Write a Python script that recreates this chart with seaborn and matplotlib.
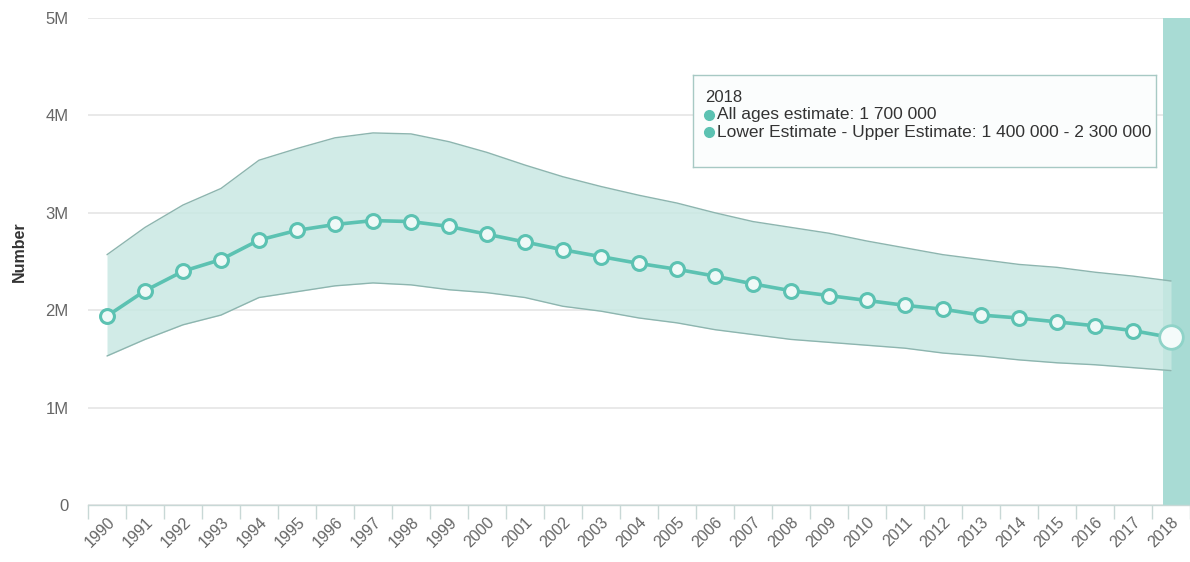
import matplotlib
matplotlib.use("Agg")
import matplotlib.pyplot as plt
import matplotlib.transforms as mtransforms
import seaborn as sns
import pandas as pd

# Estimated number of people (all ages), 1990-2018, with uncertainty range
years = list(range(1990, 2019))
all_ages = [1.94, 2.20, 2.40, 2.52, 2.72, 2.82, 2.88, 2.92, 2.91, 2.86,
            2.78, 2.70, 2.62, 2.55, 2.48, 2.42, 2.35, 2.27, 2.20, 2.15,
            2.10, 2.05, 2.01, 1.95, 1.92, 1.88, 1.84, 1.79, 1.72]
lower = [1.53, 1.70, 1.85, 1.95, 2.13, 2.19, 2.25, 2.28, 2.26, 2.21,
         2.18, 2.13, 2.04, 1.99, 1.92, 1.87, 1.80, 1.75, 1.70, 1.67,
         1.64, 1.61, 1.56, 1.53, 1.49, 1.46, 1.44, 1.41, 1.38]
upper = [2.57, 2.85, 3.08, 3.25, 3.54, 3.66, 3.77, 3.82, 3.81, 3.73,
         3.62, 3.49, 3.37, 3.27, 3.18, 3.10, 3.00, 2.91, 2.85, 2.79,
         2.71, 2.64, 2.57, 2.52, 2.47, 2.44, 2.39, 2.35, 2.30]
y_ticks = [0, 1, 2, 3, 4, 5]
y_tick_labels = ["0", "1M", "2M", "3M", "4M", "5M"]
highlight_year = 2018

M = 1_000_000
df = pd.DataFrame({
    "year": years,
    "estimate": [v * M for v in all_ages],
    "lower": [v * M for v in lower],
    "upper": [v * M for v in upper],
})

sns.set_theme(style="white")
plt.rcParams["font.family"] = ["Liberation Sans", "DejaVu Sans"]

teal = "#5cc2b2"
band_fill = "#c9e8e3"
band_edge = "#8db5af"
grid_col = "#e3e3e3"
text_col = "#666666"

fig = plt.figure(figsize=(11.9, 5.62), dpi=100)
ax = fig.add_axes([88 / 1190, 57 / 562, 1 - 88 / 1190, (505 - 18) / 562])

# hover band over the highlighted year
ax.axvspan(highlight_year - 0.2, highlight_year + 0.5, color="#a8dbd4", zorder=1, lw=0)

# uncertainty range
ax.fill_between(df["year"], df["lower"], df["upper"], color=band_fill, alpha=0.85,
                lw=0, zorder=2)
ax.plot(df["year"], df["upper"], color=band_edge, lw=1.0, zorder=3)
ax.plot(df["year"], df["lower"], color=band_edge, lw=1.0, zorder=3)

# central estimate
sns.lineplot(data=df, x="year", y="estimate", ax=ax, color=teal, lw=2.6,
             marker="o", markersize=10, markerfacecolor="#eef9f7",
             markeredgecolor=teal, markeredgewidth=2.2, zorder=5)
hl = df[df["year"] == highlight_year]
ax.plot(hl["year"], hl["estimate"], "o", ms=17, mfc="#f4fbfa", mec="#8fd3c8",
        mew=2.0, zorder=6)

ax.set_xlim(1989.5, 2018.34)
ax.set_ylim(0, 5 * M)
ax.set_yticks([t * M for t in y_ticks])
ax.set_yticklabels(y_tick_labels)
ax.set_xticks(years)
ax.set_xticklabels([str(y) for y in years], rotation=45, ha="right",
                   rotation_mode="anchor")
ax.set_xticks([y + 0.5 for y in [years[0] - 1] + years], minor=True)

shift = mtransforms.ScaledTranslation(-6 / 100, 0, fig.dpi_scale_trans)
for lab in ax.get_xticklabels():
    lab.set_transform(lab.get_transform() + shift)

ax.yaxis.grid(True, color=grid_col, lw=1.1)
ax.set_axisbelow(True)
for s in ["top", "right", "left"]:
    ax.spines[s].set_visible(False)
ax.spines["bottom"].set_color("#c8d8d6")
ax.spines["bottom"].set_linewidth(1.0)

ax.tick_params(axis="y", length=0, pad=14, labelsize=12, labelcolor=text_col)
ax.tick_params(axis="x", which="major", length=0, pad=7, labelsize=11.5,
               labelcolor=text_col)
ax.tick_params(axis="x", which="minor", length=10, width=1, color="#c8d8d6",
               direction="out", bottom=True)

ax.set_xlabel("")
ax.set_ylabel("Number", fontsize=11.5, fontweight="bold", color="#333333")
ax.yaxis.set_label_coords(-0.0555, 0.52)

# tooltip for the highlighted year
row = df[df["year"] == highlight_year].iloc[0]


def fmt(v):
    r = int(round(v, -5))
    return f"{r:,}".replace(",", " ")


tip = fig.add_axes([693 / 1190, 1 - 167 / 562, (1156 - 693) / 1190, (167 - 75) / 562])
tip.set_xticks([])
tip.set_yticks([])
tip.set_facecolor("#fbfdfd")
for s in tip.spines.values():
    s.set_color("#a7c9c4")
    s.set_linewidth(1.0)
tip.set_xlim(0, 463)
tip.set_ylim(92, 0)
tip.text(12, 23, str(highlight_year), fontsize=12, color="#333333", va="center")
tip.plot([16, 16], [40, 57], "o", color="#5cc2b2", ms=7)
tip.text(24, 40, f"All ages estimate: {fmt(row['estimate'])}", fontsize=12.5,
         color="#333333", va="center")
tip.text(24, 57, f"Lower Estimate - Upper Estimate: {fmt(row['lower'])} - {fmt(row['upper'])}",
         fontsize=12.5, color="#333333", va="center")

fig.savefig("out.png", dpi=100)
